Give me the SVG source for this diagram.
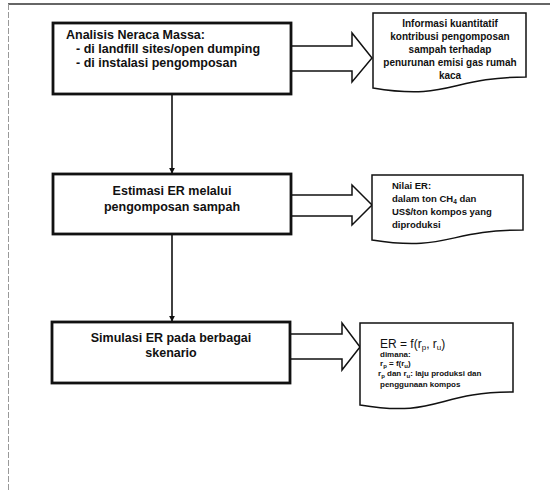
<svg xmlns="http://www.w3.org/2000/svg" width="554" height="490" viewBox="0 0 554 490">
<defs>
<marker id="ah" viewBox="0 0 8 8" refX="7" refY="4" markerWidth="6" markerHeight="6" orient="auto" markerUnits="userSpaceOnUse">
<path d="M0,0 L8,4 L0,8 Z" fill="#111"/>
</marker>
<style>
.box{fill:#fff;stroke:#111;stroke-width:2.8}
.doc{fill:#fff;stroke:#111;stroke-width:1.5}
.barrow{fill:#fff;stroke:#111;stroke-width:1.5;stroke-linejoin:miter}
.conn{fill:none;stroke:#111;stroke-width:1.6}
.bt{font-family:"Liberation Sans",Arial,sans-serif;font-weight:bold;font-size:12.5px;fill:#111}
.dt{font-family:"Liberation Sans",Arial,sans-serif;font-weight:bold;font-size:10px;fill:#111}
.d2{font-family:"Liberation Sans",Arial,sans-serif;font-weight:bold;font-size:9.5px;fill:#111}
.st{font-family:"Liberation Sans",Arial,sans-serif;font-weight:bold;font-size:8px;fill:#111}
.ft{font-family:"Liberation Sans",Arial,sans-serif;font-size:12px;fill:#111}
</style>
</defs>
<rect x="0" y="0" width="554" height="490" fill="#fff"/>
<g id="frame">
<line x1="8" y1="4" x2="550" y2="4" stroke="#333" stroke-width="1.5"/>
<line x1="8.5" y1="4" x2="8.5" y2="490" stroke="#999" stroke-width="1" stroke-dasharray="6,2"/>
</g>
<g id="connectors">
<line class="conn" x1="172" y1="94" x2="172" y2="173" marker-end="url(#ah)"/>
<line class="conn" x1="172" y1="234" x2="172" y2="321" marker-end="url(#ah)"/>
<path class="barrow" d="M291,46 L352,46 L352,33 L372,58 L352,82 L352,71 L291,71"/>
<path class="barrow" d="M291,195 L352,195 L352,185 L372,205 L352,225 L352,216 L291,216"/>
<path class="barrow" d="M290,334 L342,334 L342,323 L360,347 L342,370 L342,359 L290,359"/>
</g>
<g id="node-analisis">
<rect class="box" x="53" y="23" width="238" height="71"/>
<text class="bt" x="66" y="38.5">Analisis Neraca Massa:</text>
<text class="bt" x="76" y="52.5">- di landfill sites/open dumping</text>
<text class="bt" x="76" y="66.5">- di instalasi pengomposan</text>
</g>
<g id="node-estimasi">
<rect class="box" x="53" y="174" width="238" height="60"/>
<text class="bt" x="172" y="194.5" text-anchor="middle">Estimasi ER melalui</text>
<text class="bt" x="172" y="210.5" text-anchor="middle">pengomposan sampah</text>
</g>
<g id="node-simulasi">
<rect class="box" x="52" y="322" width="238" height="61"/>
<text class="bt" x="171" y="341.5" text-anchor="middle">Simulasi ER pada berbagai</text>
<text class="bt" x="171" y="356.5" text-anchor="middle">skenario</text>
</g>
<g id="doc-informasi">
<path class="doc" d="M373,13 L526,13 L526,77 C450,77 450,101 373,88 Z"/>
<text class="dt" x="450" y="26.5" text-anchor="middle">Informasi kuantitatif</text>
<text class="dt" x="450" y="39.5" text-anchor="middle">kontribusi pengomposan</text>
<text class="dt" x="450" y="52.5" text-anchor="middle">sampah terhadap</text>
<text class="dt" x="450" y="65.5" text-anchor="middle">penurunan emisi gas rumah</text>
<text class="dt" x="450" y="78.5" text-anchor="middle">kaca</text>
</g>
<g id="doc-nilai">
<path class="doc" d="M372,175 L523,175 L523,230 C447,230 447,252 372,240 Z"/>
<text class="d2" x="392" y="188.5">Nilai ER:</text>
<text class="d2" x="392" y="201.5">dalam ton CH<tspan font-size="6.5" dy="2">4</tspan><tspan dy="-2"> dan</tspan></text>
<text class="d2" x="392" y="214.5">US$/ton kompos yang</text>
<text class="d2" x="392" y="227.5">diproduksi</text>
</g>
<g id="doc-er">
<path class="doc" d="M360,323 L513,323 L513,392 C437,392 437,418 360,405 Z"/>
<text class="ft" x="380" y="347.5">ER = f(r<tspan font-size="8" dy="2">p</tspan><tspan dy="-2">, r</tspan><tspan font-size="8" dy="2">u</tspan><tspan dy="-2">)</tspan></text>
<text class="st" x="380" y="356.5">dimana:</text>
<text class="st" x="380" y="366">r<tspan font-size="6" dy="1.5">p</tspan><tspan dy="-1.5"> = f(r</tspan><tspan font-size="6" dy="1.5">u</tspan><tspan dy="-1.5">)</tspan></text>
<text class="st" x="378" y="376">r<tspan font-size="6" dy="1.5">p</tspan><tspan dy="-1.5"> dan r</tspan><tspan font-size="6" dy="1.5">u</tspan><tspan dy="-1.5">: laju produksi dan</tspan></text>
<text class="st" x="380" y="386.5">penggunaan kompos</text>
</g>
</svg>
